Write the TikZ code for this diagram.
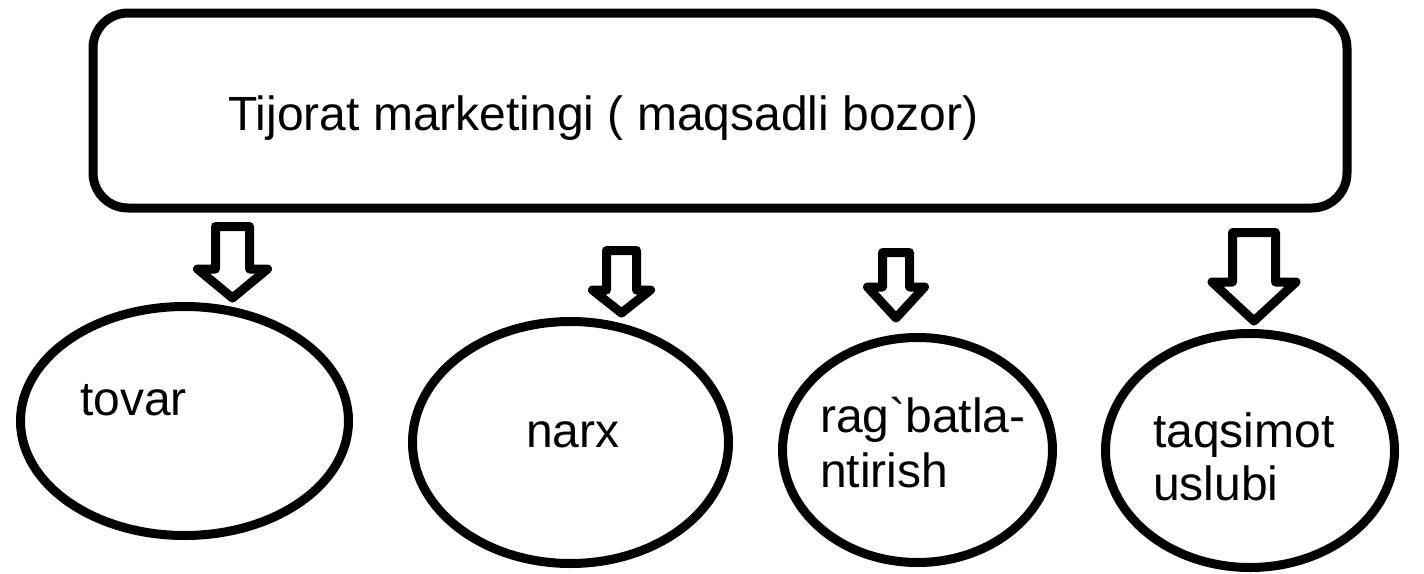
\documentclass[tikz,border=0pt]{standalone}
\usepackage{fontspec}
\setmainfont{Liberation Sans}[Ligatures=TeXOff]
\usetikzlibrary{shapes.geometric}
\tikzset{
  outline/.style={draw=black, line width=9pt, line join=round},
  oval/.style={outline, ellipse, inner sep=0pt},
  label/.style={anchor=base west, inner sep=0pt, font=\fontsize{48}{54}\selectfont},
}
\newcommand{\blockarrow}[6]{%
  % #1 cx, #2 top, #3 wing y, #4 tip y, #5 shaft half width, #6 head half width
  \draw[outline] (#1-#5,#2) -- (#1+#5,#2) -- (#1+#5,#3) -- (#1+#6,#3)
    -- (#1,#4) -- (#1-#6,#3) -- (#1-#5,#3) -- cycle;}
\begin{document}
\begin{tikzpicture}[x=1pt,y=-1pt]
\useasboundingbox (0,0) rectangle (1424,573);
\fill[white] (0,0) rectangle (1424,573);
% top box
\draw[outline, rounded corners=35pt] (93,13) rectangle (1347,208);
\node[label] (title) at (228,130) {Tijorat marketingi ( maqsadli bozor)};
% ellipses
\node[oval, minimum width=328pt, minimum height=229pt] (e1) at (184.5,421) {};
\node[oval, minimum width=316pt, minimum height=242pt] (e2) at (570.5,442.5) {};
\node[oval, minimum width=270pt, minimum height=225pt] (e3) at (917.5,450) {};
\node[oval, minimum width=289pt, minimum height=234pt] (e4) at (1250,450.5) {};
% labels
\node[label] (t1) at (80,415) {tovar};
\node[label] (t2) at (526,447) {narx};
\node[label] (t3a) at (820,432) {rag`batla-};
\node[label] (t3b) at (820,487) {ntirish};
\node[label] (t4a) at (1153,447) {taqsimot};
\node[label] (t4b) at (1153,500) {uslubi};
% block arrows
\blockarrow{232.5}{226.5}{269}{298}{17}{35}
\blockarrow{621.5}{250.5}{290}{313}{15}{29}
\blockarrow{896}{252.5}{287}{318}{13.5}{28.5}
\blockarrow{1254}{232.5}{282}{321}{21.5}{42}
\end{tikzpicture}
\end{document}
